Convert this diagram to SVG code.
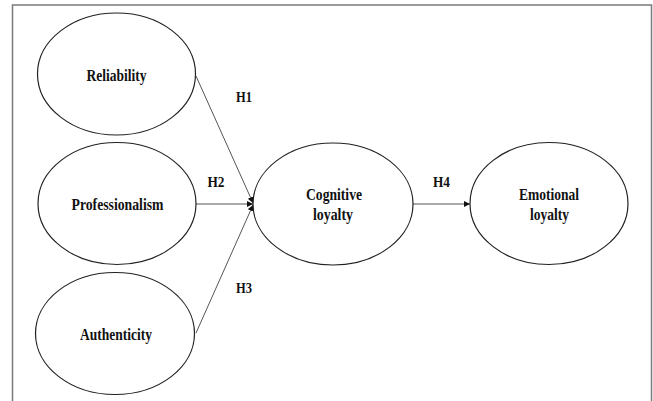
<svg xmlns="http://www.w3.org/2000/svg" width="653" height="401" viewBox="0 0 653 401">
<style>
.frame{fill:none;stroke:#7a7a7a;stroke-width:1.5}
.node ellipse{fill:#fff;stroke:#222;stroke-width:1.2}
.lbl{font-family:"Liberation Serif","Times New Roman",serif;font-weight:bold;font-size:16.5px;fill:#111;text-anchor:middle}
.h{font-size:15.5px}
.edge{stroke:#555;stroke-width:1;fill:none;marker-end:url(#arr)}
</style>
<defs>
<marker id="arr" markerUnits="userSpaceOnUse" markerWidth="7" markerHeight="7" refX="6" refY="3" orient="auto">
<path d="M0,0 L6,3 L0,6 z" fill="#111"/>
</marker>
</defs>
<rect x="0" y="0" width="653" height="401" fill="#fff"/>
<path class="frame" d="M12.5,402 V5 H651.5 V402"/>
<g id="connectors">
<line class="edge" x1="196" y1="76" x2="253" y2="203"/>
<line class="edge" x1="196" y1="204" x2="253" y2="204"/>
<line class="edge" x1="196" y1="333" x2="253" y2="205"/>
<line class="edge" x1="412.5" y1="204" x2="470" y2="204"/>
<text class="lbl h" x="244" y="101.5" textLength="16" lengthAdjust="spacingAndGlyphs">H1</text>
<text class="lbl h" x="216" y="187" textLength="17" lengthAdjust="spacingAndGlyphs">H2</text>
<text class="lbl h" x="244" y="293" textLength="16" lengthAdjust="spacingAndGlyphs">H3</text>
<text class="lbl h" x="441.5" y="187" textLength="17" lengthAdjust="spacingAndGlyphs">H4</text>
</g>
<g id="reliability" class="node">
<ellipse cx="116.5" cy="74" rx="79" ry="61"/>
<text class="lbl" x="116.5" y="81" textLength="60" lengthAdjust="spacingAndGlyphs">Reliability</text>
</g>
<g id="professionalism" class="node">
<ellipse cx="117" cy="203.5" rx="79" ry="61"/>
<text class="lbl" x="117.5" y="209.5" textLength="92" lengthAdjust="spacingAndGlyphs">Professionalism</text>
</g>
<g id="authenticity" class="node">
<ellipse cx="115" cy="333.5" rx="79.5" ry="61"/>
<text class="lbl" x="116" y="340" textLength="72" lengthAdjust="spacingAndGlyphs">Authenticity</text>
</g>
<g id="cognitive" class="node">
<ellipse cx="333" cy="204" rx="80" ry="61"/>
<text class="lbl" x="334" y="200" textLength="56" lengthAdjust="spacingAndGlyphs">Cognitive</text>
<text class="lbl" x="333" y="219.5" textLength="40" lengthAdjust="spacingAndGlyphs">loyalty</text>
</g>
<g id="emotional" class="node">
<ellipse cx="549" cy="203.5" rx="79" ry="61"/>
<text class="lbl" x="549" y="199.5" textLength="60" lengthAdjust="spacingAndGlyphs">Emotional</text>
<text class="lbl" x="549.5" y="219.5" textLength="39" lengthAdjust="spacingAndGlyphs">loyalty</text>
</g>
</svg>
